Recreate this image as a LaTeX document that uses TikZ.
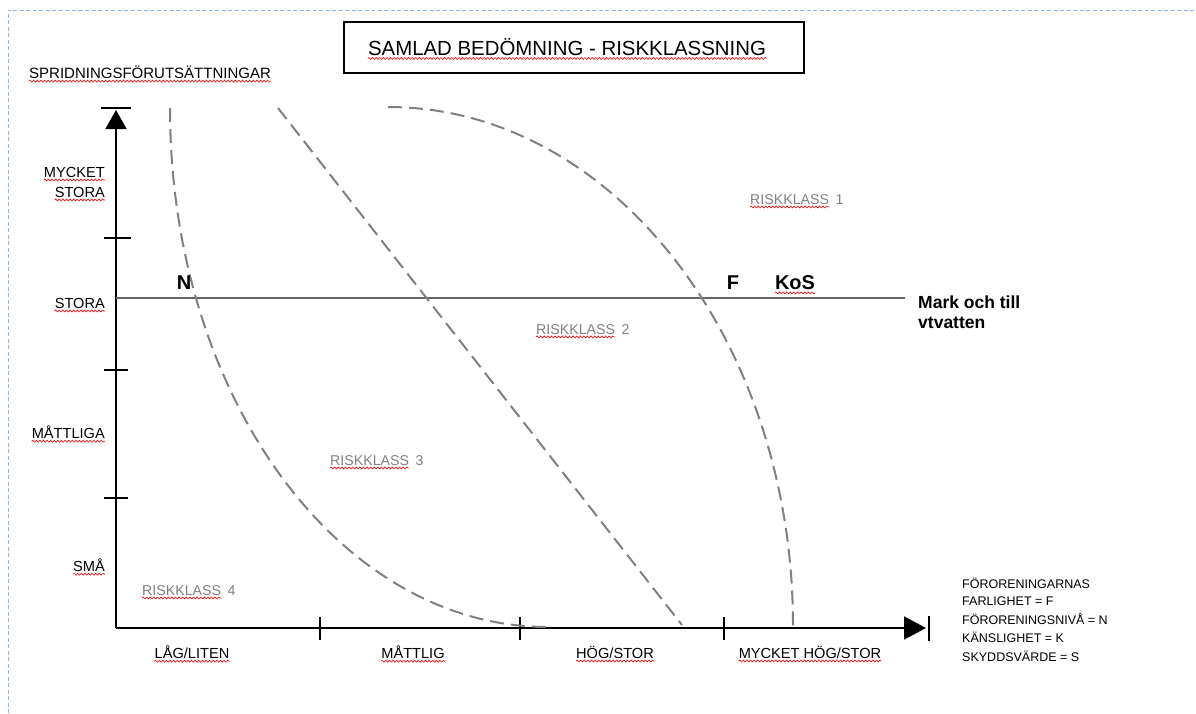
\documentclass[tikz,border=0pt]{standalone}
\usepackage{fontspec}
\setmainfont{Liberation Sans}
\usetikzlibrary{arrows.meta,decorations.pathmorphing}
\definecolor{bord}{RGB}{141,180,227}
\definecolor{bnd}{RGB}{128,128,128}
\newcommand\spellline[1]{\draw[spell] ([yshift=-2.6pt]#1.south west) -- ([yshift=-2.6pt]#1.south east);}
\begin{document}
\begin{tikzpicture}[x=1pt,y=-1pt,
  lbl/.style={font=\fontsize{14.6}{16}\selectfont, inner sep=0pt},
  leg/.style={font=\fontsize{12.5}{14}\selectfont, inner sep=0pt, anchor=west},
  risk/.style={font=\fontsize{14.2}{16}\selectfont, inner sep=0pt, text=gray, anchor=base west},
  big/.style={font=\bfseries\fontsize{20}{22}\selectfont, inner sep=0pt},
  marktext/.style={font=\bfseries\fontsize{17.5}{20}\selectfont, inner sep=0pt, anchor=west},
  boundary/.style={draw=bnd, line width=2pt, dash pattern=on 14pt off 7pt},
  axisline/.style={line width=1.8pt, draw=black},
  tick/.style={line width=1.4pt, draw=black},
  spell/.style={draw=red, line width=0.6pt, decorate,
     decoration={snake, amplitude=1pt, segment length=3.6pt}}]
\useasboundingbox (0,0) rectangle (1196,713);
% blue dashed frame
\draw[draw=bord, line width=1pt, dash pattern=on 4pt off 2.5pt] (8,713) -- (8,10) -- (1196,10);
% title
\node[draw, line width=1.6pt, minimum width=460pt, minimum height=51pt, inner sep=0pt] (title) at (574,47.5) {};
\node[font=\fontsize{20.4}{22}\selectfont, inner sep=0pt] (ttext) at (567,47)
      {SAMLAD BEDÖMNING - RISKKLASSNING};
\spellline{ttext}
\node[lbl, anchor=west, font=\fontsize{15}{16}\selectfont] (ylab) at (29,72) {SPRIDNINGSFÖRUTSÄTTNINGAR};
\spellline{ylab}
% axes
\coordinate (O) at (116,628);
\coordinate (ytop) at (116,110);
\coordinate (xend) at (926,628);
\draw[axisline, -{Triangle[length=19pt,width=21pt]}] (O) -- (ytop);
\draw[line width=1.8pt] (101,108) -- (131,108);
\draw[axisline, -{Triangle[length=22pt,width=23pt]}] (O) -- (xend);
\draw[line width=2pt] (929,616) -- (929,641);
% y ticks
\draw[line width=2.6pt] (104,238) -- (131,238);
\draw[tick] (104,370) -- (128,370);
\draw[tick] (104,498) -- (128,498);
% x ticks
\draw[tick] (320,617) -- (320,640);
\draw[tick] (520,617) -- (520,640);
\draw[tick] (724,617) -- (724,640);
% horizontal line
\coordinate (hl0) at (116,298);
\coordinate (hl1) at (905,298);
\draw[line width=1.3pt, draw=black!60] (hl0) -- (hl1);
% boundaries
\coordinate (a0) at (170,108); \coordinate (a1) at (548,627);
\coordinate (b0) at (278,108); \coordinate (b1) at (682,625);
\coordinate (c0) at (388,107); \coordinate (c1) at (793,626);
\draw[boundary] (a0) .. controls (170,395) and (338,627) .. (a1);
\draw[boundary] (b0) -- (b1);
\draw[boundary] (c0) .. controls (612,107) and (793,340) .. (c1);
% y labels
\node[lbl, anchor=east] (ymy) at (105,172) {MYCKET};
\node[lbl, anchor=east] (yst1) at (105,192) {STORA};
\node[lbl, anchor=east] (yst2) at (105,303) {STORA};
\node[lbl, anchor=east] (ymat) at (105,432) {MÅTTLIGA};
\node[lbl, anchor=east] (ysma) at (105,565) {SMÅ};
\spellline{ymy}\spellline{yst1}\spellline{yst2}\spellline{ymat}\spellline{ysma}
% x labels
\node[lbl] (xl1) at (192,652) {LÅG/LITEN};
\node[lbl] (xl2) at (413,652) {MÅTTLIG};
\node[lbl] (xl3) at (615,652) {HÖG/STOR};
\node[lbl] (xl4) at (810,652) {MYCKET HÖG/STOR};
\spellline{xl1}\spellline{xl2}\spellline{xl3}\spellline{xl4}
% risk classes
\node[risk] (r1) at (750,204) {RISKKLASS};
\node[risk] (r2) at (536,334) {RISKKLASS};
\node[risk] (r3) at (330,465) {RISKKLASS};
\node[risk] (r4) at (142,595) {RISKKLASS};
\node[risk] (r1n) at ([xshift=6pt]r1.base east) {1};
\node[risk] (r2n) at ([xshift=6pt]r2.base east) {2};
\node[risk] (r3n) at ([xshift=6pt]r3.base east) {3};
\node[risk] (r4n) at ([xshift=6pt]r4.base east) {4};
\spellline{r1}\spellline{r2}\spellline{r3}\spellline{r4}
% letters
\node[big] (N) at (184,283) {N};
\node[big] (F) at (733,283) {F};
\node[big] (KoS) at (795,283) {KoS};
\spellline{KoS}
\node[marktext] (m1) at (918,302) {Mark och till};
\node[marktext] (m2) at (918,323) {vtvatten};
% legend
\node[leg] (g1) at (962,583) {FÖRORENINGARNAS};
\node[leg] (g2) at (962,601) {FARLIGHET = F};
\node[leg] (g3) at (962,619) {FÖRORENINGSNIVÅ = N};
\node[leg] (g4) at (962,637) {KÄNSLIGHET = K};
\node[leg] (g5) at (962,656) {SKYDDSVÄRDE = S};
\end{tikzpicture}
\end{document}
